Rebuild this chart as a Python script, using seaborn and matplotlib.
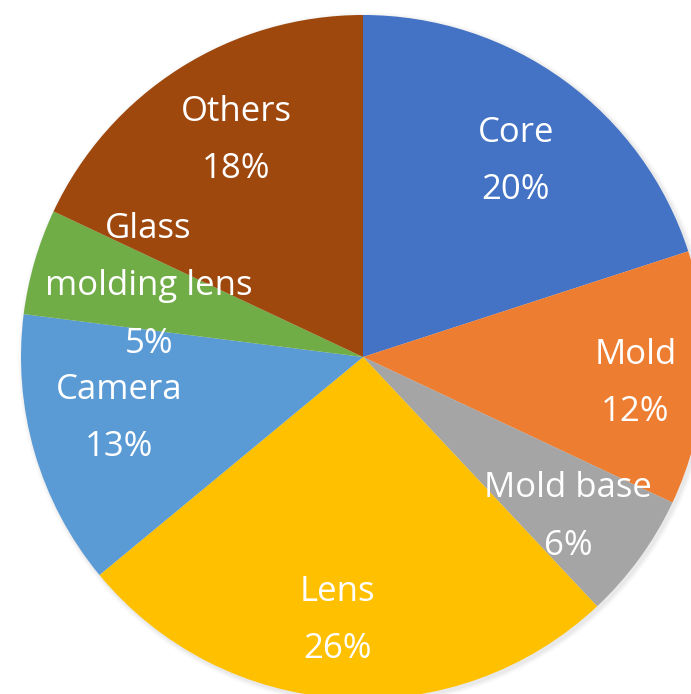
import matplotlib
matplotlib.use("Agg")
import matplotlib.pyplot as plt
import seaborn as sns
import numpy as np

# data
parts = ['Core', 'Mold', 'Mold base', 'Lens', 'Camera', 'Glass\nmolding lens', 'Others']
shares = [20, 12, 6, 26, 13, 5, 18]
colours = ['#4472C4', '#ED7D31', '#A5A5A5', '#FFC000', '#5B9BD5', '#70AD47', '#9E480E']
label_r = [0.725, 0.80, 0.76, 0.775, 0.735, 0.66, 0.733]

sns.set_theme(style="white")
plt.rcParams['font.family'] = ['Open Sans', 'DejaVu Sans']

W, H = 691, 694
cx, cy, R = 363, 357, 342   # centre and radius in pixels

fig = plt.figure(figsize=(W / 100, H / 100), dpi=100)
ax = fig.add_axes([0, 0, 1, 1])

# faint drop shadow
for k, a in zip([1.014, 1.009, 1.004], [0.04, 0.06, 0.08]):
    ax.add_patch(plt.Circle((0.006, -0.006), k, color='#808080', alpha=a, lw=0, zorder=0))

wedges, _ = ax.pie(shares, colors=colours, startangle=90, counterclock=False,
                   radius=1, wedgeprops=dict(linewidth=0))

for w, name, pct, rf in zip(wedges, parts, shares, label_r):
    ang = np.deg2rad((w.theta1 + w.theta2) / 2 - 2)
    ax.text(rf * np.cos(ang), rf * np.sin(ang), f"{name}\n{pct}%",
            ha='center', va='center', color='white', fontsize=25,
            linespacing=1.9, zorder=5)

ax.set_xlim(-cx / R, (W - cx) / R)
ax.set_ylim(-(H - cy) / R, cy / R)
ax.set_aspect('auto')
ax.axis('off')

fig.savefig("out.png", dpi=100)
